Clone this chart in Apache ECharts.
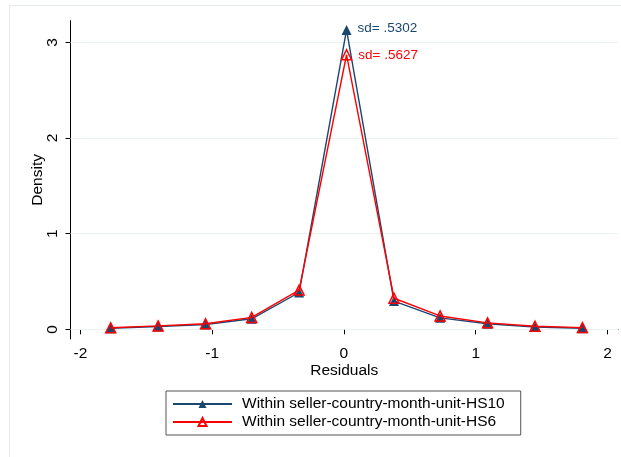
<!DOCTYPE html>
<html>
<head>
<meta charset="utf-8">
<script src="https://cdn.jsdelivr.net/npm/echarts@6/dist/echarts.min.js"></script>
<style>
  html, body { margin: 0; padding: 0; background: #fff; }
  #chart { width: 621px; height: 457px; }
</style>
</head>
<body>
<div id="chart"></div>
<script>
// Bin midpoints of the residuals and the estimated density in each bin
const residualBins = [-1.77, -1.41, -1.05, -0.70, -0.34, 0.02, 0.38, 0.73, 1.09, 1.45, 1.81];
const densityHS10 = [0.012, 0.030, 0.050, 0.110, 0.385, 3.13, 0.295, 0.120, 0.058, 0.025, 0.012];
const densityHS6  = [0.016, 0.036, 0.058, 0.125, 0.410, 2.87, 0.325, 0.140, 0.068, 0.032, 0.018];
const seriesNames = ['Within seller-country-month-unit-HS10', 'Within seller-country-month-unit-HS6'];
const sdLabels = ['sd= .5302', 'sd= .5627'];
const xTicks = [-2, -1, 0, 1, 2];
const yTicks = [0, 1, 2, 3];

const FONT = '"Liberation Sans", Arial, sans-serif';
const NAVY = '#1a476f';
const RED = '#ff0000';

function points(ys) {
  return residualBins.map((x, i) => [x, ys[i]]);
}

// Attach the sd annotation to the tallest point of a curve
function withPeakLabel(ys, text, color, dy) {
  const peak = ys.indexOf(Math.max(...ys));
  return points(ys).map((p, i) => i !== peak ? p : {
    value: p,
    label: {
      show: true, position: 'right', distance: 6, offset: [0, dy],
      formatter: text, color: color, fontSize: 13.5, fontFamily: FONT
    }
  });
}

const chart = echarts.init(document.getElementById('chart'), null, { renderer: 'canvas' });

chart.setOption({
  animation: false,
  backgroundColor: '#fff',
  graphic: [{
    type: 'rect', silent: true, z: -10,
    shape: { x: 9.5, y: 5.5, width: 640, height: 480 },
    style: { fill: 'none', stroke: '#e5ebed', lineWidth: 1 }
  }],
  grid: { left: 70.5, right: 3, top: 20.7, bottom: 118, containLabel: false },
  legend: {
    left: 166, top: 391,
    orient: 'vertical',
    padding: [5, 16, 5, 6],
    itemGap: 2,
    itemWidth: 59, itemHeight: 10,
    borderColor: '#555', borderWidth: 1,
    textStyle: { fontFamily: FONT, fontSize: 15.5, color: '#000', lineHeight: 16, padding: [0, 0, 0, 5] },
    data: seriesNames
  },
  xAxis: {
    type: 'value',
    min: -2.075, max: 2.08,
    name: 'Residuals', nameLocation: 'middle', nameGap: 24, nameMoveOverlap: false,
    nameTextStyle: { fontFamily: FONT, fontSize: 15.5, color: '#000' },
    axisLine: { show: true, lineStyle: { color: '#000', width: 1 } },
    axisTick: { show: true, length: 5, customValues: xTicks, lineStyle: { color: '#000' } },
    axisLabel: { customValues: xTicks, margin: 7, fontFamily: FONT, fontSize: 15.5, color: '#000' },
    splitLine: { show: false }
  },
  yAxis: {
    type: 'value',
    min: -0.101, max: 3.226,
    name: 'Density', nameLocation: 'middle', nameGap: 25, nameRotate: 90, nameMoveOverlap: false,
    nameTextStyle: { fontFamily: FONT, fontSize: 15.5, color: '#000' },
    axisLine: { show: true, onZero: false, lineStyle: { color: '#000', width: 1 } },
    axisTick: { show: true, length: 5, customValues: yTicks, lineStyle: { color: '#000' } },
    axisLabel: { customValues: yTicks, rotate: 90, margin: 10, fontFamily: FONT, fontSize: 15.5, color: '#000' },
    splitLine: { show: false }
  },
  series: [
    {
      name: seriesNames[0],
      type: 'line',
      data: withPeakLabel(densityHS10, sdLabels[0], NAVY, -2),
      symbol: 'triangle', symbolSize: 10,
      itemStyle: { color: NAVY },
      lineStyle: { color: NAVY, width: 1.4 },
      z: 3,
      markLine: {
        silent: true, symbol: 'none', z: 1,
        label: { show: false },
        lineStyle: { color: '#eaf2f3', width: 1, type: 'solid' },
        data: yTicks.map(v => ({ yAxis: v }))
      }
    },
    {
      name: seriesNames[1],
      type: 'line',
      data: withPeakLabel(densityHS6, sdLabels[1], RED, 1),
      symbol: 'triangle', symbolSize: 10,
      itemStyle: { color: 'rgba(255,255,255,0)', borderColor: RED, borderWidth: 1.5 },
      lineStyle: { color: RED, width: 1.4 },
      z: 4
    }
  ]
});
</script>
</body>
</html>
